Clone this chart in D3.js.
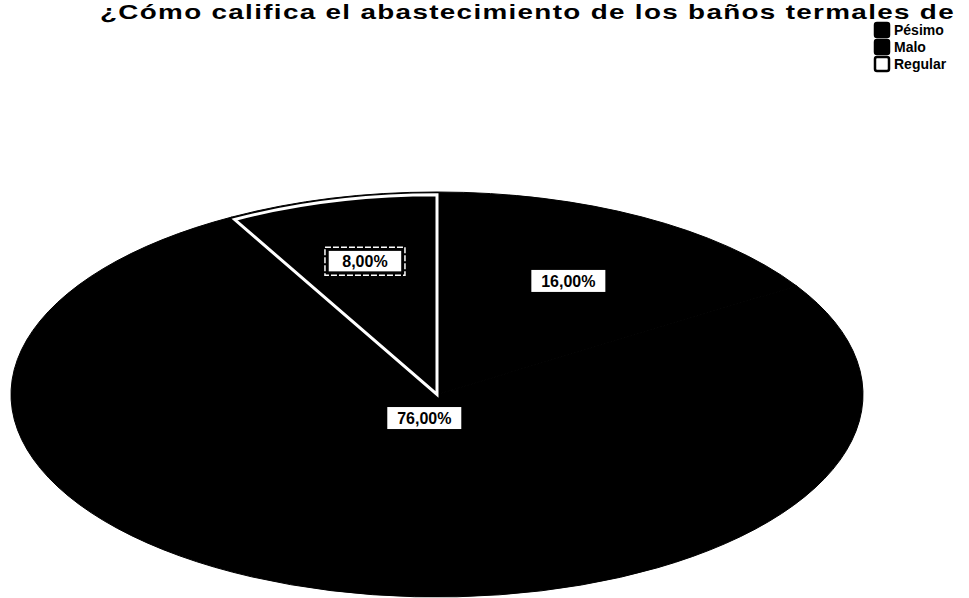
<!DOCTYPE html>
<html>
<head>
<meta charset="utf-8">
<script src="https://cdn.jsdelivr.net/npm/d3@7/dist/d3.min.js"></script>
<style>
  html, body { margin: 0; padding: 0; background: #fff; }
  svg { display: block; }
</style>
</head>
<body>
<svg id="chart" width="969" height="598"></svg>
<script>
// Survey answers and their shares (%)
const categories = ["Pésimo", "Malo", "Regular"];
const shares = [76, 16, 8];
// Drawing order of the slices, clockwise from 12 o'clock
const sliceOrder = ["Malo", "Pésimo", "Regular"];
const titleText = "¿Cómo califica el abastecimiento de los baños termales de";

const W = 969, H = 598;
const svg = d3.select("#chart");

const data = categories.map((c, i) => ({ name: c, value: shares[i] }));
const fmt = v => d3.format(".2f")(v).replace(".", ",") + "%";

// Title
svg.append("text")
  .attr("x", 100).attr("y", 19)
  .attr("textLength", 855)
  .attr("lengthAdjust", "spacingAndGlyphs")
  .style("font-family", "Liberation Sans, Arial, sans-serif")
  .style("font-weight", "bold")
  .style("font-size", "21px")
  .style("letter-spacing", "1px")
  .text(titleText);

// Elliptical pie: drawn as a circle, squashed vertically
const cx = 437, cy = 394.5, rx = 426, ry = 202.5;
const pie = d3.pie()
  .value(d => d.value)
  .sort((a, b) => sliceOrder.indexOf(a.name) - sliceOrder.indexOf(b.name));
const arcs = pie(data);
const arc = d3.arc().innerRadius(0).outerRadius(rx);

const fills = { "Pésimo": "#000", "Malo": "#000", "Regular": "#000" };
const strokes = { "Pésimo": "#000", "Malo": "#000", "Regular": "#fff" };

const g = svg.append("g")
  .attr("transform", `translate(${cx},${cy}) scale(1,${ry / rx})`);

g.selectAll("path.slice")
  .data(arcs)
  .join("path")
  .attr("class", "slice")
  .attr("d", arc)
  .attr("fill", d => fills[d.data.name])
  .attr("stroke", "#000")
  .attr("stroke-width", 1)
  .attr("vector-effect", "non-scaling-stroke");

// White outline of the Regular wedge, inset slightly from the rim
const inset = d3.arc().innerRadius(0).outerRadius(rx - 6);
g.selectAll("path.edge")
  .data(arcs.filter(d => d.data.name === "Regular"))
  .join("path")
  .attr("class", "edge")
  .attr("d", inset)
  .attr("fill", "none")
  .attr("stroke", d => strokes[d.data.name])
  .attr("stroke-width", 3)
  .attr("stroke-linejoin", "miter")
  .attr("vector-effect", "non-scaling-stroke");

// Value labels in white boxes
const labelR = { "Pésimo": 0.12, "Malo": 0.64, "Regular": 0.68 };
const labelPos = d => {
  const a = (d.startAngle + d.endAngle) / 2;
  const k = labelR[d.data.name];
  const x = cx + Math.sin(a) * rx * k;
  const y = cy - Math.cos(a) * ry * k;
  return [x, y];
};
const lab = svg.selectAll("g.lab")
  .data(arcs)
  .join("g")
  .attr("class", "lab")
  .attr("transform", d => {
    const [x, y] = labelPos(d);
    return `translate(${x},${y})`;
  });
lab.append("rect")
  .attr("x", -37).attr("y", -11)
  .attr("width", 74).attr("height", 22)
  .attr("fill", "#fff")
  .attr("stroke", d => d.data.name === "Regular" ? "#000" : "none")
  .attr("stroke-width", 1.5);
lab.filter(d => d.data.name === "Regular").append("rect")
  .attr("x", -40).attr("y", -14)
  .attr("width", 80).attr("height", 28)
  .attr("fill", "none")
  .attr("stroke", "#fff")
  .attr("stroke-width", 1.5)
  .attr("stroke-dasharray", "6 2");
lab.append("text")
  .attr("text-anchor", "middle")
  .attr("dy", "0.36em")
  .style("font-family", "Liberation Sans, Arial, sans-serif")
  .style("font-weight", "bold")
  .style("font-size", "16px")
  .text(d => fmt(d.data.value));

// Legend
const legendFill = { "Pésimo": "#000", "Malo": "#000", "Regular": "#fff" };
const leg = svg.append("g").attr("transform", "translate(874,22)");
const row = leg.selectAll("g")
  .data(categories)
  .join("g")
  .attr("transform", (d, i) => `translate(0,${i * 17})`);
row.append("rect")
  .attr("x", 1).attr("y", 1)
  .attr("width", 14).attr("height", 14)
  .attr("rx", 2)
  .attr("fill", d => legendFill[d])
  .attr("stroke", "#000")
  .attr("stroke-width", 2.5);
row.append("text")
  .attr("x", 20).attr("y", 13)
  .style("font-family", "Liberation Sans, Arial, sans-serif")
  .style("font-weight", "bold")
  .style("font-size", "14px")
  .text(d => d);
</script>
</body>
</html>
